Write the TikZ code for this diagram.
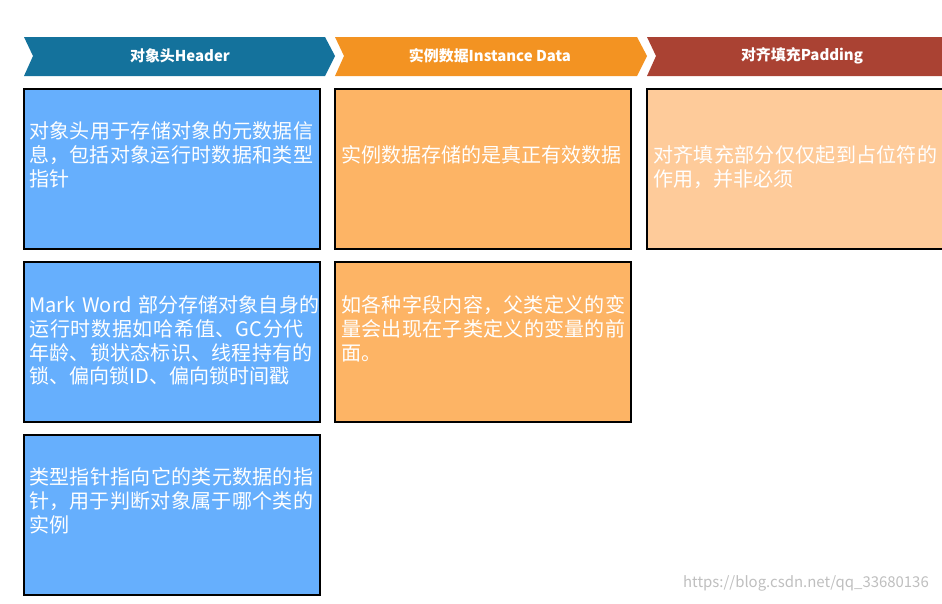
\documentclass[tikz,border=0pt]{standalone}
\usepackage{fontspec}
\setmainfont{Noto Sans CJK SC}
\XeTeXlinebreaklocale "zh"
\XeTeXlinebreakskip=0pt plus 1pt
\definecolor{hdrblue}{HTML}{14729C}
\definecolor{hdrorange}{HTML}{F39322}
\definecolor{hdrred}{HTML}{AA4233}
\definecolor{boxblue}{HTML}{66AFFD}
\definecolor{boxorange}{HTML}{FDB465}
\definecolor{boxpeach}{HTML}{FECB9A}
\tikzset{
  chev/.style={text=white, font=\fontsize{8.5}{10}\selectfont\bfseries},
  cell/.style={draw=black, line width=0.6pt},
  celltext/.style={anchor=north west, text=white, inner sep=0pt, align=left,
    text width=5.8cm, font=\fontsize{11.4}{13.6}\selectfont},
}
\begin{document}
\begin{tikzpicture}[x=0.02cm, y=-0.02cm]
    \useasboundingbox[fill=white] (0,0) rectangle (942,603);

    % header chevrons
    \fill[hdrblue] (24,37) -- (325,37) -- (335,56) -- (325,76) -- (24,76) -- (33,56) -- cycle;
    \node[chev] (hhead) at (180,56) {对象头Header};
    \fill[hdrorange] (335,37) -- (637,37) -- (647,56) -- (637,76) -- (335,76) -- (344,56) -- cycle;
    \node[chev] (hdata) at (490,56) {实例数据Instance Data};
    \fill[hdrred] (647,37) -- (942,37) -- (942,76) -- (647,76) -- (656,56) -- cycle;
    \node[chev] (hpad) at (802,56) {对齐填充Padding};

    % boxes
    \filldraw[cell, fill=boxblue] (24,89) rectangle (320,249);
    \filldraw[cell, fill=boxblue] (24,262) rectangle (320,422);
    \filldraw[cell, fill=boxblue] (24,435) rectangle (320,595);
    \filldraw[cell, fill=boxorange] (335,89) rectangle (631,249);
    \filldraw[cell, fill=boxorange] (335,262) rectangle (631,422);
    \filldraw[cell, fill=boxpeach] (647,89) rectangle (945,249);

    % texts
    \node[celltext] (theader) at (29,121) {对象头用于存储对象的元数据信息，包括对象运行时数据和类型指针};
    \node[celltext] (tmark) at (29,295) {Mark Word 部分存储对象自身的运行时数据如哈希值、GC分代年龄、锁状态标识、线程持有的锁、偏向锁ID、偏向锁时间戳};
    \node[celltext] (tklass) at (29,467) {类型指针指向它的类元数据的指针，用于判断对象属于哪个类的实例};
    \node[celltext] (tdata) at (341,145) {实例数据存储的是真正有效数据};
    \node[celltext] (tfield) at (341,295) {如各种字段内容，父类定义的变量会出现在子类定义的变量的前面。};
    \node[celltext] (tpad) at (653,145) {对齐填充部分仅仅起到占位符的作用，并非必须};

    % watermark
    \node[text=black!25, font=\fontsize{8.5}{10}\selectfont, anchor=east] (mark) at (935,583) {https://blog.csdn.net/qq\_33680136};
\end{tikzpicture}
\end{document}
